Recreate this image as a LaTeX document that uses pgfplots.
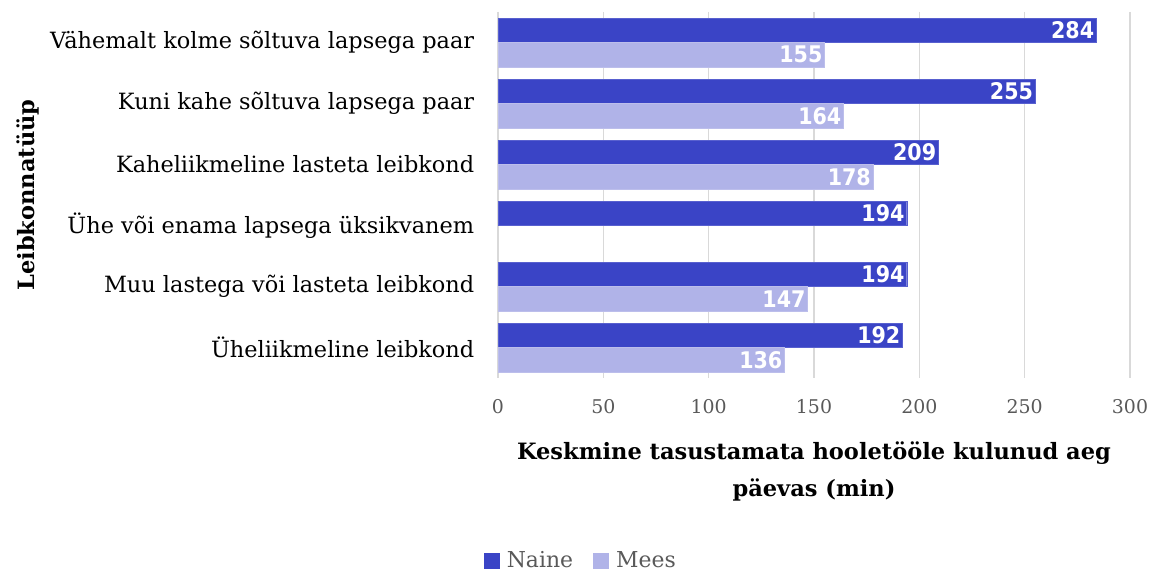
\documentclass[border=0pt]{standalone}
\usepackage{fontspec}
\setmainfont{DejaVu Serif}
\newfontfamily\condfont{DejaVu Sans Condensed}
\usepackage{pgfplots}
\pgfplotsset{compat=1.18}
\definecolor{naine}{HTML}{3A44C6}
\definecolor{mees}{HTML}{B0B3E8}
\definecolor{tickgray}{HTML}{595959}
\definecolor{gridgray}{HTML}{D9D9D9}
\begin{document}
\begin{tikzpicture}[x=1bp,y=1bp]
\useasboundingbox (0,0) rectangle (1154,572);
\begin{axis}[
  at={(498bp,194bp)}, anchor=south west,
  scale only axis, width=632bp, height=366bp,
  xbar, bar width=0.4,
  xmin=0, xmax=300, ymin=-0.5, ymax=5.5, y dir=reverse,
  ytick={0,...,5},
  yticklabels={Vähemalt kolme sõltuva lapsega paar,Kuni kahe sõltuva lapsega paar,Kaheliikmeline lasteta leibkond,Ühe või enama lapsega üksikvanem,Muu lastega või lasteta leibkond,Üheliikmeline leibkond},
  xtick={0,50,...,300},
  /pgf/number format/assume math mode=true,
  xmajorgrids, grid style={gridgray, line width=1.2bp},
  axis line style={draw=none}, major tick style={draw=none},
  yticklabel style={font=\fontsize{22.5}{26}\selectfont, text=black, xshift=-16bp},
  xticklabel style={font=\fontsize{19}{22}\selectfont, text=tickgray, yshift=-18bp},
  xlabel={Keskmine tasustamata hooletööle kulunud aeg\\päevas (min)},
  xlabel style={font=\bfseries\fontsize{22.6}{37}\selectfont, align=center, at={(axis description cs:0.5,0)}, anchor=north, yshift=-60bp},
  ylabel={Leibkonnatüüp},
  ylabel style={font=\bfseries\fontsize{22.6}{26}\selectfont, at={(axis description cs:-0.744,0.5)}, anchor=center},
  nodes near coords,
  nodes near coords style={anchor=east, text=white, inner sep=2bp, font=\condfont\bfseries\fontsize{23}{24}\selectfont},
  legend columns=2,
  legend style={draw=none, fill=none, at={(axis description cs:0.131,-0.499)}, anchor=center, inner sep=1bp, font=\fontsize{22}{24}\selectfont, text=tickgray, /tikz/every odd column/.append style={column sep=5bp}, /tikz/every even column/.append style={column sep=18bp}},
  legend image code/.code={\fill[#1,draw=none] (0bp,-8bp) rectangle (16bp,8bp);},
]
\addplot[fill=naine, draw=naine!85!white, bar shift=-0.2] coordinates {(284,0) (255,1) (209,2) (194,3) (194,4) (192,5)};
\addplot[fill=mees, draw=mees!85!white, bar shift=0.2] coordinates {(155,0) (164,1) (178,2) (147,4) (136,5)};
\legend{Naine,Mees}
\end{axis}
\end{tikzpicture}
\end{document}
